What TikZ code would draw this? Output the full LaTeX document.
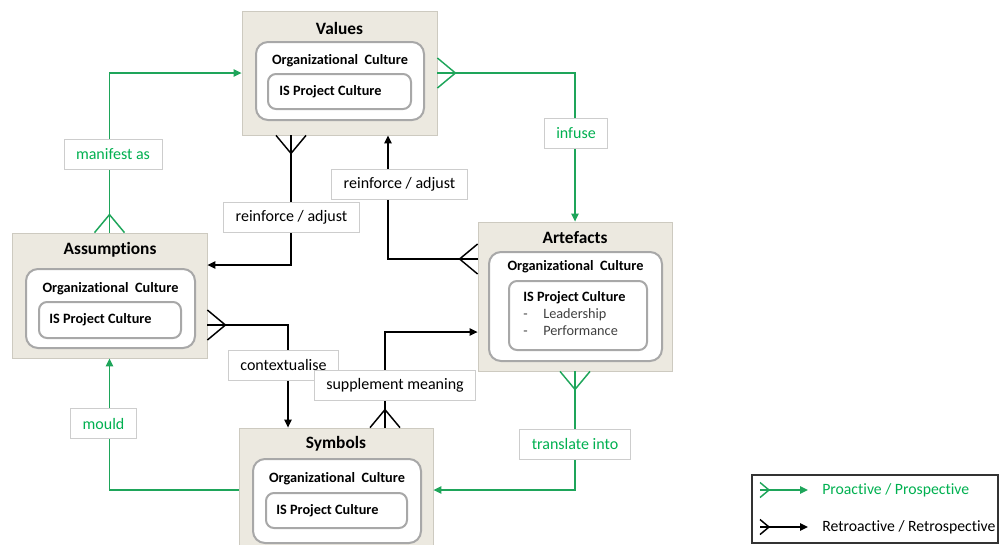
\documentclass[tikz,border=0pt]{standalone}
\usepackage{fontspec}
\setmainfont{Carlito}[Ligatures={NoCommon}]
\usetikzlibrary{arrows.meta,positioning}
\definecolor{progreen}{RGB}{0,176,80}
\definecolor{linegreen}{RGB}{30,165,90}
\definecolor{boxbeige}{RGB}{236,233,224}
\definecolor{boxedge}{RGB}{205,202,192}
\definecolor{innergray}{RGB}{168,168,168}
\definecolor{labedge}{RGB}{205,205,205}

\tikzset{
  layer/.style={draw=boxedge,fill=boxbeige,line width=0.6pt},
  orgbox/.style={draw=innergray,fill=white,line width=1.5pt,rounded corners=9pt},
  isbox/.style={draw=innergray,fill=white,line width=1.5pt,rounded corners=6pt},
  title/.style={inner sep=0pt,font=\fontsize{13}{15}\selectfont\bfseries},
  orgtext/.style={inner sep=0pt,font=\fontsize{10.7}{12}\selectfont\bfseries},
  istext/.style={inner sep=0pt,anchor=west,font=\fontsize{10.7}{12}\selectfont\bfseries},
  lab/.style={draw=labedge,fill=white,line width=0.6pt,minimum height=22.5pt,inner xsep=9pt,font=\fontsize{12}{14}\selectfont},
  pro/.style={draw=linegreen,line width=1.1pt,-{Triangle[length=6pt,width=5.5pt]}},
  retro/.style={draw=black,line width=1.1pt,-{Triangle[length=6pt,width=5.5pt]}},
  crow/.pic={\draw[-,line width=1.1pt] (0,-15) -- (18,0) -- (0,15);}
}

\begin{document}
\begin{tikzpicture}[x=0.75pt,y=-0.75pt]
\useasboundingbox (0,0) rectangle (999,544);
\clip (0,0) rectangle (999,544);

% the four layers
\node[layer,minimum width=146.25pt,minimum height=93pt] (values) at (339.5,73) {};
\node[layer,minimum width=146.25pt,minimum height=93.75pt] (assum) at (109.5,295.5) {};
\node[layer,minimum width=145.5pt,minimum height=111.75pt] (artef) at (575,296.5) {};
\node[layer,minimum width=145.5pt,minimum height=93pt] (symb) at (336,490) {};

\node[title] (valuesT) at (339.5,28) {Values};
\node[title] (assumT) at (110,250) {Assumptions};
\node[title] (artefT) at (575,238) {Artefacts};
\node[title] (symbT) at (336,444) {Symbols};

% organizational culture
\node[orgbox,minimum width=126pt,minimum height=58.5pt] (valuesO) at (340,81) {};
\node[orgbox,minimum width=126.75pt,minimum height=59.25pt] (assumO) at (110.5,308.5) {};
\node[orgbox,minimum width=129.75pt,minimum height=81.75pt] (artefO) at (575.5,306.5) {};
\node[orgbox,minimum width=126pt,minimum height=63pt] (symbO) at (337,501) {};
\node[orgtext] at (340,61) {Organizational\ \ Culture};
\node[orgtext] at (110.5,289) {Organizational\ \ Culture};
\node[orgtext] at (575.5,267) {Organizational\ \ Culture};
\node[orgtext] at (337,479) {Organizational\ \ Culture};

% IS project culture
\node[isbox,minimum width=107.25pt,minimum height=26.25pt] (valuesI) at (339.5,91.5) {};
\node[isbox,minimum width=106.5pt,minimum height=27pt] (assumI) at (110,320) {};
\node[isbox,minimum width=103.5pt,minimum height=51.75pt] (artefI) at (578,315.5) {};
\node[isbox,minimum width=105.75pt,minimum height=26.25pt] (symbI) at (336.5,510.5) {};
\node[istext] at (279,91.5) {IS Project Culture};
\node[istext] at (49,320) {IS Project Culture};
\node[istext] at (276,510.5) {IS Project Culture};
\node[istext,align=left,font=\fontsize{10.7}{13}\selectfont] at (523,313.5)
  {\textbf{IS Project Culture}\\
   \textcolor{black!75}{\makebox[15pt][l]{-}Leadership}\\
   \textcolor{black!75}{\makebox[15pt][l]{-}Performance}};

% helper positions
\coordinate (xA) at (291,0);
\coordinate (xB) at (388,0);
\coordinate (xC) at (288,0);
\coordinate (xD) at (385,0);
\coordinate (yA) at (0,265);
\coordinate (yB) at (0,259);
\coordinate (yC) at (0,325);
\coordinate (yD) at (0,332);

% proactive links
\draw[pro] (assum.north) |- (values.west);
\draw[pro] (values.east) -| (artef.north);
\draw[pro] (artef.south) |- (symb.east);
\draw[pro] (symb.west) -| (assum.south);
\pic[linegreen,rotate=90] at (assum.north) {crow};
\pic[linegreen] at (values.east) {crow};
\pic[linegreen,rotate=-90] at (artef.south) {crow};

% retroactive links
\draw[retro] (values.south -| xA) |- (assum.east |- yA);
\draw[retro] (artef.west |- yB) -| (values.south -| xB);
\draw[retro] (assum.east |- yC) -| (symb.north -| xC);
\draw[retro] (symb.north -| xD) |- (artef.west |- yD);
\pic[rotate=-90] at (values.south -| xA) {crow};
\pic[rotate=180] at (artef.west |- yB) {crow};
\pic at (assum.east |- yC) {crow};
\pic[rotate=90] at (symb.north -| xD) {crow};

% labels
\node[lab,text=progreen] (manifestL) at (113,154) {manifest as};
\node[lab,text=progreen] (infuseL) at (576,133) {infuse};
\node[lab,text=progreen] (translateL) at (575,444) {translate into};
\node[lab,text=progreen] (mouldL) at (103.5,423.5) {mould};
\node[lab] (reinfAL) at (291.5,217.5) {reinforce / adjust};
\node[lab] (reinfBL) at (399.5,184) {reinforce / adjust};
\node[lab] (contextL) at (283.5,365) {contextualise};
\node[lab] (supplL) at (395,385) {supplement meaning};

% legend
\node[draw=black!80,line width=0.8pt,minimum width=184.5pt,minimum height=51pt] (legend) at (875,509) {};
\coordinate (proA) at (760,490);
\coordinate (proB) at (808,490);
\coordinate (retA) at (760,527);
\coordinate (retB) at (808,527);
\draw[pro] (proA) -- (proB);
\draw[retro] (retA) -- (retB);
\pic[linegreen,scale=0.5] at (proA) {crow};
\pic[scale=0.5] at (retA) {crow};
\node[anchor=west,inner sep=0pt,text=progreen,font=\fontsize{11.8}{14}\selectfont] (proT) at (822,490) {Proactive / Prospective};
\node[anchor=west,inner sep=0pt,font=\fontsize{11.8}{14}\selectfont] (retT) at (822,527) {Retroactive / Retrospective};
\end{tikzpicture}
\end{document}
